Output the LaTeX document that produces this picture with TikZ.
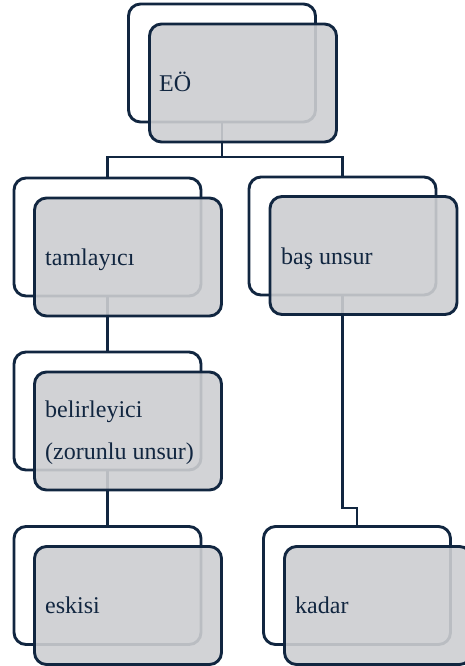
\documentclass[tikz,border=0pt]{standalone}
\usepackage{fontspec}
\setmainfont{Liberation Serif}
\newfontfamily\tnrfont{Liberation Serif}
\definecolor{navy}{RGB}{17,38,64}
\definecolor{boxgray}{RGB}{205,206,209}
\tikzset{
  backbox/.style={draw=navy, line width=2.9pt, rounded corners=12pt, fill=white,
    minimum width=187pt, minimum height=118pt, inner sep=0pt, outer sep=0pt},
  frontbox/.style={backbox, fill=boxgray, fill opacity=0.9},
  lbl/.style={anchor=base west, inner sep=0pt, text=navy, font=\tnrfont\fontsize{24}{28}\selectfont},
  conn/.style={draw=navy, line width=2.9pt}
}
\begin{document}
\begin{tikzpicture}[x=1pt,y=-1pt]
\useasboundingbox (0,0) rectangle (464,666);
% back boxes
\node[backbox] (eoB)  at (222,63) {};
\node[backbox] (tamB) at (107.5,237) {};
\node[backbox] (basB) at (342.5,236) {};
\node[backbox] (belB) at (107.5,411) {};
\node[backbox] (eskB) at (107.5,585.5) {};
\node[backbox] (kadB) at (357,585.5) {};
% connectors
\coordinate (hub) at (222,157);
\coordinate (kel) at (357,508);
\draw[conn] (eoB.south) -- (hub);
\draw[conn] (tamB.north) |- (hub) -| (basB.north);
\draw[conn] (tamB.south) -- (belB.north);
\draw[conn] (belB.south) -- (eskB.north);
\draw[conn] (basB.south) |- (kel) -- (kadB.north);
% front boxes
\node[frontbox] (eo)  at (243,83) {};
\node[frontbox] (tam) at (128,257) {};
\node[frontbox] (bas) at (363.5,255.5) {};
\node[frontbox] (bel) at (128,431) {};
\node[frontbox] (esk) at (128,605.5) {};
\node[frontbox] (kad) at (378,605.5) {};
% labels
\node[lbl] (eoT)  at (159,92)  {EÖ};
\node[lbl] (tamT) at (45,265)  {tamlayıcı};
\node[lbl] (basT) at (281,264) {baş unsur};
\node[lbl] (belT1) at (45,417) {belirleyici};
\node[lbl] (belT2) at (45,459) {(zorunlu unsur)};
\node[lbl] (eskT) at (45,613)  {eskisi};
\node[lbl] (kadT) at (295,613) {kadar};
\end{tikzpicture}
\end{document}
